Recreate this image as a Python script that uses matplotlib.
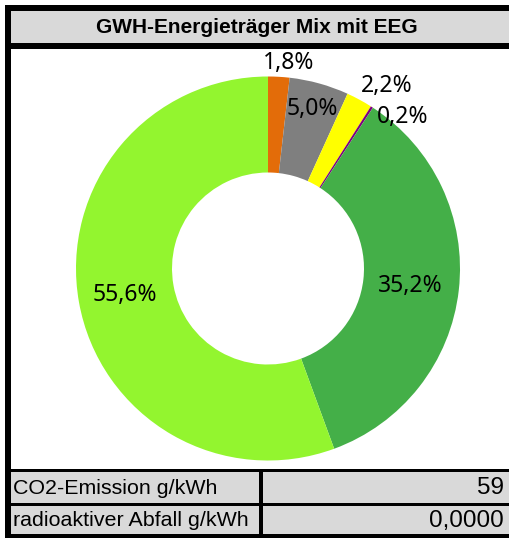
import numpy as np
import matplotlib
matplotlib.use("Agg")
import matplotlib.pyplot as plt
from matplotlib.patches import Rectangle

# data
title = "GWH-Energieträger Mix mit EEG"
shares = [1.8, 5.0, 2.2, 0.2, 35.2, 55.6]
colors = ["#E36C09", "#7F7F7F", "#FFFF00", "#800080", "#44AF48", "#93F52F"]
table_labels = ["CO2-Emission g/kWh", "radioaktiver Abfall g/kWh"]
table_values = ["59", "0,0000"]

# label placement (radius, angle shift in degrees) per wedge
label_r = [1.075, 0.862, 1.135, 1.057, 0.745, 0.757]
label_shift = [-2.4, 0, -4.7, -8.9, -0.5, 0.4]

W, H = 510, 538
fig = plt.figure(figsize=(W / 100, H / 100), dpi=100)

# background frame drawn in pixel coords
bg = fig.add_axes([0, 0, 1, 1])
bg.set_xlim(0, W)
bg.set_ylim(H, 0)
bg.axis("off")

gray = "#D9D9D9"
# title bar
bg.add_patch(Rectangle((5, 5), W - 5, 44, color="black", lw=0))
bg.add_patch(Rectangle((11, 11), W - 11, 32, color=gray, lw=0))
bg.text(257, 27.5, title, ha="center", va="center", fontsize=15,
        fontweight="bold", family="Liberation Sans")
# left border
bg.add_patch(Rectangle((5, 5), 6, H - 5, color="black", lw=0))
# table
bg.add_patch(Rectangle((5, 469), W - 5, H - 469, color="black", lw=0))
rows = [(472, 503), (506, 534)]
for (y0, y1), lab, val in zip(rows, table_labels, table_values):
    bg.add_patch(Rectangle((11, y0), 248, y1 - y0, color=gray, lw=0))
    bg.add_patch(Rectangle((263, y0), W - 263, y1 - y0, color=gray, lw=0))
    yc = (y0 + y1) / 2 + 1
    bg.text(13, yc, lab, ha="left", va="center", fontsize=15.4,
            family="Liberation Sans")
    bg.text(504, yc, val, ha="right", va="center", fontsize=17.5,
            family="Liberation Sans")

# donut
cx, cy, R = 268, 268.5, 192
ax = fig.add_axes([(cx - R) / W, (H - cy - R) / H, 2 * R / W, 2 * R / H])
wedges, _ = ax.pie(shares, colors=colors, startangle=90, counterclock=False,
                   radius=1, wedgeprops=dict(width=0.5, linewidth=0))
ax.set_xlim(-1, 1)
ax.set_ylim(-1, 1)
ax.axis("off")

for w, v, r, d in zip(wedges, shares, label_r, label_shift):
    mid = np.deg2rad((w.theta1 + w.theta2) / 2 + d)
    ax.text(r * np.cos(mid), r * np.sin(mid), f"{v:.1f}%".replace(".", ","),
            ha="center", va="center", fontsize=16.5, family="Noto Sans",
            clip_on=False)

fig.savefig("out.png", dpi=100)
